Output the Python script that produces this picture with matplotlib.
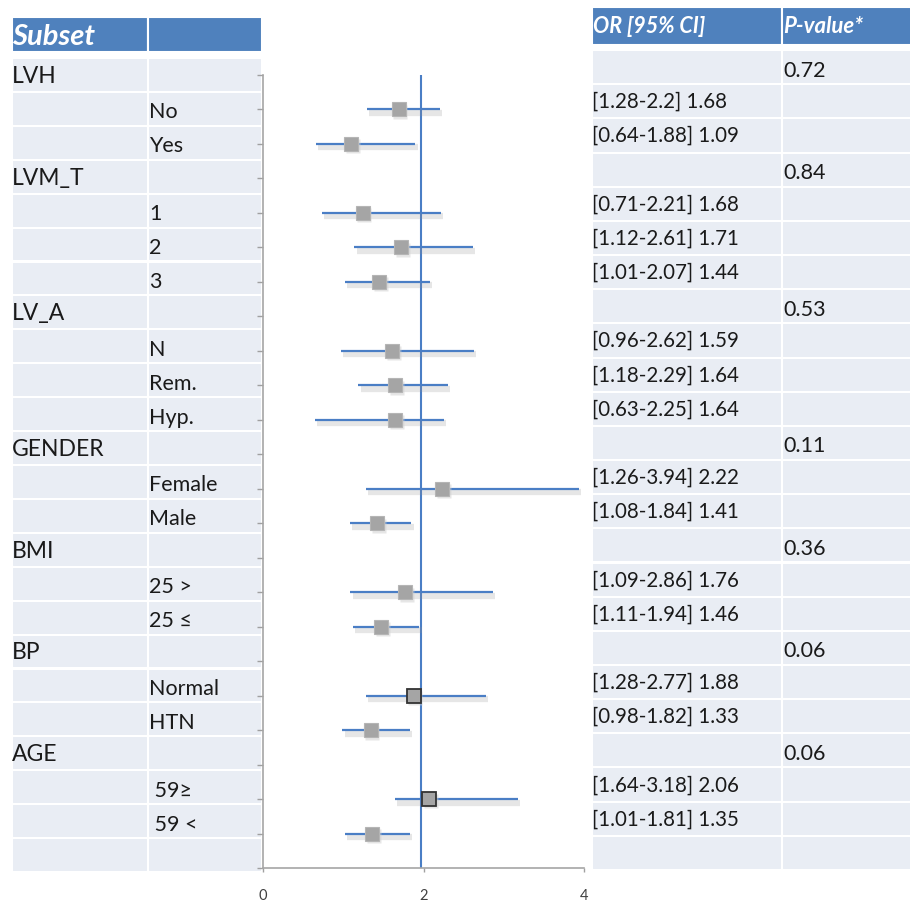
import matplotlib
matplotlib.use('Agg')
import matplotlib.pyplot as plt
import matplotlib.patheffects as pe
from matplotlib.patches import Rectangle

plt.rcParams['font.family'] = ['Lato', 'DejaVu Sans']

# table content, one entry per row (top to bottom)
group_labels = ['LVH', '', '', 'LVM_T', '', '', '', 'LV_A', '', '', '',
                'GENDER', '', '', 'BMI', '', '', 'BP', '', '', 'AGE', '', '', '']
sub_labels = ['', 'No', 'Yes', '', '1', '2', '3', '', 'N', 'Rem.', 'Hyp.',
              '', 'Female', 'Male', '', '25 >', '25 \u2264', '', 'Normal', 'HTN',
              '', ' 59\u2265', ' 59 <', '']
or_ci_text = ['', '[1.28-2.2] 1.68', '[0.64-1.88] 1.09', '',
              '[0.71-2.21] 1.68', '[1.12-2.61] 1.71', '[1.01-2.07] 1.44', '',
              '[0.96-2.62] 1.59', '[1.18-2.29] 1.64', '[0.63-2.25] 1.64', '',
              '[1.26-3.94] 2.22', '[1.08-1.84] 1.41', '',
              '[1.09-2.86] 1.76', '[1.11-1.94] 1.46', '',
              '[1.28-2.77] 1.88', '[0.98-1.82] 1.33', '',
              '[1.64-3.18] 2.06', '[1.01-1.81] 1.35', '']
p_values = ['0.72', '', '', '0.84', '', '', '', '0.53', '', '', '',
            '0.11', '', '', '0.36', '', '', '0.06', '', '', '0.06', '', '', '']

# plotted estimates as drawn in the figure
plot_rows = [1, 2, 4, 5, 6, 8, 9, 10, 12, 13, 15, 16, 18, 19, 21, 22]
odds_ratio = [1.69, 1.10, 1.24, 1.72, 1.45, 1.61, 1.65, 1.65,
              2.23, 1.42, 1.77, 1.47, 1.88, 1.34, 2.07, 1.36]
ci_low = [1.30, 0.66, 0.73, 1.14, 1.02, 0.97, 1.19, 0.65,
          1.28, 1.08, 1.09, 1.12, 1.28, 0.99, 1.65, 1.02]
ci_high = [2.21, 1.90, 2.22, 2.62, 2.08, 2.63, 2.31, 2.26,
           3.94, 1.85, 2.87, 1.95, 2.78, 1.83, 3.18, 1.83]
dark_edge = [False] * 12 + [True, False, True, False]
ref_value = 1.97
x_ticks = [0, 2, 4]

HEADER_BLUE = '#4F81BD'
ROW_FILL = '#E9EDF4'
LINE_BLUE = '#4A7EC5'
MARKER_GRAY = '#A5A5A5'
TEXT = '#1A1A1A'

W, H = 910, 901
fig = plt.figure(figsize=(W / 100, H / 100), dpi=100)


def px_axes(x0, y0, x1, y1):
    return fig.add_axes([x0 / W, 1 - y1 / H, (x1 - x0) / W, (y1 - y0) / H])


n_rows = len(group_labels)

# ---- left table ----
axl = px_axes(12, 58, 262, 872)
axl.set_xlim(0, 1)
axl.set_ylim(n_rows, 0)
axl.axis('off')
split = 0.544
for i in range(n_rows):
    for x0, x1 in [(0, split), (split, 1)]:
        axl.add_patch(Rectangle((x0, i), x1 - x0, 1, fc=ROW_FILL, ec='white', lw=1.5))
    axl.text(0.0, i + 0.54, group_labels[i], fontsize=16.5, va='center', ha='left', color=TEXT)
    axl.text(split + 0.004, i + 0.6, sub_labels[i], fontsize=15.5, va='center', ha='left', color=TEXT)
for x0, x1 in [(0, split), (split, 1)]:
    axl.add_patch(Rectangle((x0, -1.21), x1 - x0, 1.03, fc=HEADER_BLUE, ec='white',
                            lw=1.5, clip_on=False))
axl.text(0.0, -0.62, 'Subset', fontsize=21, weight='bold', style='italic',
         color='white', va='center', ha='left')

# ---- right table ----
axr = px_axes(592, 50, 910, 870)
axr.set_xlim(0, 1)
axr.set_ylim(n_rows, 0)
axr.axis('off')
split_r = 0.597
for i in range(n_rows):
    for x0, x1 in [(0, split_r), (split_r, 1.01)]:
        axr.add_patch(Rectangle((x0, i), x1 - x0, 1, fc=ROW_FILL, ec='white', lw=1.5,
                                clip_on=False))
    axr.text(0.0, i + 0.52, or_ci_text[i], fontsize=14.8, va='center', ha='left', color=TEXT)
    axr.text(split_r + 0.004, i + 0.6, p_values[i], fontsize=15.5, va='center', ha='left', color=TEXT)
for x0, x1 in [(0, split_r), (split_r, 1.01)]:
    axr.add_patch(Rectangle((x0, -1.26), x1 - x0, 1.11, fc=HEADER_BLUE, ec='white',
                            lw=1.5, clip_on=False))
axr.text(0.003, -0.7, 'OR [95% CI]', fontsize=15.5, weight='bold', style='italic',
         color='white', va='center', ha='left')
axr.text(split_r + 0.004, -0.7, 'P-value*', fontsize=16, weight='bold', style='italic',
         color='white', va='center', ha='left')

# ---- forest plot ----
ax = px_axes(263, 75, 584, 868)
ax.set_xlim(0, 4)
ax.set_ylim(n_rows - 1, 0)
ax.axvline(ref_value, color=LINE_BLUE, lw=1.5, zorder=1)
shadow = [pe.SimpleLineShadow(offset=(1.5, -2.5), shadow_color='#909090',
                              alpha=0.22, linewidth=4.5), pe.Normal()]
ax.hlines(plot_rows, ci_low, ci_high, colors=LINE_BLUE, lw=1.6, zorder=2,
          path_effects=shadow)
for r, v, dark in zip(plot_rows, odds_ratio, dark_edge):
    ax.plot(v + 0.02, r + 0.07, 's', ms=10.5, color='#CFCFCF', mec='none', zorder=3, alpha=0.5)
    ax.plot(v, r, 's', ms=10.5, color=MARKER_GRAY,
            mec='#333333' if dark else '#B5B5B5', mew=1.3 if dark else 0.8, zorder=4)

ax.set_xticks(x_ticks)
ax.set_xticklabels([str(t) for t in x_ticks])
ax.set_yticks(range(n_rows))
ax.set_yticklabels([])
ax.tick_params(axis='y', direction='out', length=4, width=1, color='#A0A0A0')
ax.tick_params(axis='x', direction='out', length=3, width=1, color='#A0A0A0',
               labelsize=10.5, labelcolor='#404040', pad=12)
for s in ['top', 'right']:
    ax.spines[s].set_visible(False)
for s in ['left', 'bottom']:
    ax.spines[s].set_color('#A6A6A6')
    ax.spines[s].set_linewidth(1.2)
ax.patch.set_alpha(0)

fig.savefig('out.png', dpi=100)
